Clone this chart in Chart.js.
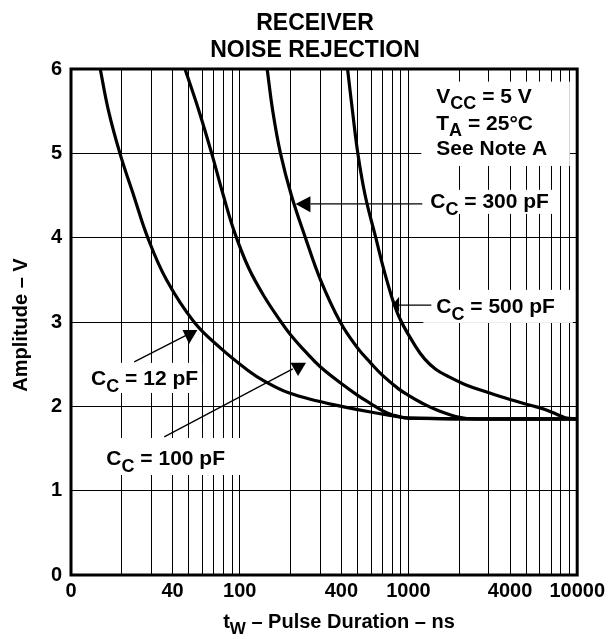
<!DOCTYPE html>
<html><head><meta charset="utf-8">
<script src="https://cdn.jsdelivr.net/npm/chart.js@4/dist/chart.umd.min.js"></script>
<style>html,body{margin:0;padding:0;background:#fff;}#wrap{width:609px;height:639px;}</style>
</head><body><div id="wrap"><canvas id="c" width="609" height="639"></canvas></div>
<script>
// ---------- data (pulse duration ns -> amplitude V) ----------
const xGrid = [10,20,30,40,50,60,70,80,90,100,200,300,400,500,600,700,800,900,1000,2000,3000,4000,5000,6000,7000,8000,9000,10000];
const xTickLabels = {10:'0',40:'40',100:'100',400:'400',1000:'1000',4000:'4000',10000:'10000'};
const yTicks = [0,1,2,3,4,5,6];

const cc12_x  = [14.9, 16.7, 19.5, 23.7, 28.5, 36.8, 53.6, 77, 113, 140, 195, 294, 400, 607, 800, 1000, 10000];
const cc12_y  = [6.0, 5.5, 5.0, 4.48, 4.0, 3.5, 3.0, 2.69, 2.42, 2.30, 2.16, 2.06, 2.0, 1.93, 1.89, 1.86, 1.85];
const cc100_x = [47.4, 57.4, 68.2, 80, 93.3, 113, 140, 176, 200, 250, 300, 400, 500, 600, 700, 800, 1000, 10000];
const cc100_y = [6.0, 5.5, 5.0, 4.5, 4.06, 3.64, 3.3, 3.0, 2.85, 2.63, 2.47, 2.27, 2.13, 2.03, 1.95, 1.9, 1.86, 1.85];
const cc300_x = [145.4, 157, 174.4, 202.5, 245, 301, 394, 500, 600, 700, 870, 1000, 1200, 1500, 2000, 2500, 10000];
const cc300_y = [6.0, 5.5, 5.0, 4.5, 4.0, 3.5, 3.0, 2.69, 2.51, 2.37, 2.21, 2.13, 2.04, 1.95, 1.87, 1.85, 1.85];
const cc500_x = [435.6, 466, 501, 554, 640, 743, 871, 1094, 1250, 1450, 1700, 2158, 3000, 4000, 5349, 6500, 7500, 8500, 10000];
const cc500_y = [6.0, 5.5, 5.0, 4.5, 4.0, 3.5, 3.08, 2.72, 2.56, 2.44, 2.36, 2.26, 2.16, 2.08, 2.01, 1.96, 1.91, 1.865, 1.85];

// ---------- annotations (anchored in data units) ----------
const FAM = '"Liberation Sans", Arial, Helvetica, sans-serif';
const whiteBoxes = [
  [1192, 5.85, 9045, 4.85],   // note block
  [1208, 4.567, 7376, 4.282], // 300 pF label
  [1225, 3.381, 9419, 2.989], // 500 pF label
  [12.0, 2.515, 59.8, 2.159], // 12 pF label
  [14.7, 1.625, 104.4, 1.186] // 100 pF label
];
const texts = [
  {x:1462, y:5.60, parts:[{t:'V'},{t:'CC',sub:true},{t:' = 5 V'}]},
  {x:1462, y:5.28, parts:[{t:'T'},{t:'A',sub:true},{t:' = 25°C'}]},
  {x:1462, y:4.98, parts:[{t:'See Note A'}]},
  {x:1347, y:4.35, parts:[{t:'C'},{t:'C',sub:true},{t:' = 300 pF'}]},
  {x:1462, y:3.108, parts:[{t:'C'},{t:'C',sub:true},{t:' = 500 pF'}]},
  {x:13.16, y:2.254, parts:[{t:'C'},{t:'C',sub:true},{t:' = 12 pF'}]},
  {x:16.2, y:1.305, parts:[{t:'C'},{t:'C',sub:true},{t:' = 100 pF'}]}
];
const leaderLines = [
  [[262.4, 4.40], [1208, 4.40]],
  [[880, 3.2], [1366, 3.2]],
  [[23.7, 2.527], [48.7, 2.847]],
  [[35.7, 1.637], [206.2, 2.444]]
];
const arrowHeads = [
  [[214, 4.40], [262.4, 4.49], [262.4, 4.30]],
  [[814, 3.215], [880, 3.30], [880, 3.12]],
  [[45.8, 2.906], [56.1, 2.906], [50.1, 2.74]],
  [[199.8, 2.518], [247.1, 2.518], [221.6, 2.361]]
];

function pts(xs, ys){ return xs.map((x,i)=>({x:x, y:ys[i]})); }
function ds(label, xs, ys){
  return {label, data:pts(xs,ys), borderColor:'#000', borderWidth:3.2, pointRadius:0,
          fill:false, tension:0.4, borderCapStyle:'round', borderJoinStyle:'round'};
}

function drawRich(ctx, parts, x, y, size, align){
  const sub = Math.round(size*0.85);
  let w = 0;
  parts.forEach(p=>{ ctx.font = `bold ${p.sub?sub:size}px ${FAM}`; p.w = ctx.measureText(p.t).width; w += p.w; });
  let cx = align==='center' ? x - w/2 : x;
  ctx.textAlign = 'left'; ctx.textBaseline = 'alphabetic';
  parts.forEach(p=>{ ctx.font = `bold ${p.sub?sub:size}px ${FAM}`; ctx.fillText(p.t, cx, y + (p.sub ? size*0.32 : 0)); cx += p.w; });
}

const deco = {
  id:'deco',
  beforeDatasetsDraw(chart){
    const {ctx, scales:{x, y}} = chart;
    ctx.save(); ctx.fillStyle = '#fff';
    whiteBoxes.forEach(b=>{
      const x0 = x.getPixelForValue(b[0]), y0 = y.getPixelForValue(b[1]);
      const x1 = x.getPixelForValue(b[2]), y1 = y.getPixelForValue(b[3]);
      ctx.fillRect(x0, y0, x1-x0, y1-y0);
    });
    ctx.restore();
  },
  afterDatasetsDraw(chart){
    const {ctx, scales:{x, y}} = chart;
    ctx.save();
    ctx.strokeStyle = '#000'; ctx.fillStyle = '#000'; ctx.lineWidth = 1.3;
    leaderLines.forEach(l=>{
      ctx.beginPath();
      ctx.moveTo(x.getPixelForValue(l[0][0]), y.getPixelForValue(l[0][1]));
      ctx.lineTo(x.getPixelForValue(l[1][0]), y.getPixelForValue(l[1][1]));
      ctx.stroke();
    });
    arrowHeads.forEach(a=>{
      ctx.beginPath();
      a.forEach((p,i)=>{ const px=x.getPixelForValue(p[0]), py=y.getPixelForValue(p[1]); i?ctx.lineTo(px,py):ctx.moveTo(px,py); });
      ctx.closePath(); ctx.fill();
    });
    texts.forEach(t=> drawRich(ctx, t.parts, x.getPixelForValue(t.x), y.getPixelForValue(t.y), 21, 'left'));
    ctx.restore();
  },
  afterDraw(chart){
    const {ctx, chartArea:a} = chart;
    ctx.save();
    ctx.strokeStyle = '#000'; ctx.lineWidth = 3;
    ctx.strokeRect(a.left, a.top, a.right-a.left, a.bottom-a.top);
    ctx.fillStyle = '#000';
    ctx.textAlign = 'center'; ctx.textBaseline = 'alphabetic';
    ctx.font = `bold 23px ${FAM}`;
    ctx.fillText('RECEIVER', 315, 30);
    ctx.fillText('NOISE REJECTION', 315, 57);
    drawRich(ctx, [{t:'t'},{t:'W',sub:true},{t:' – Pulse Duration – ns'}], 339, 628, 20, 'center');
    ctx.translate(21, 325); ctx.rotate(-Math.PI/2);
    ctx.font = `bold 20px ${FAM}`; ctx.textAlign='center'; ctx.textBaseline='middle';
    ctx.fillText('Amplitude – V', 0, 0);
    ctx.restore();
  }
};

new Chart(document.getElementById('c'), {
  type:'line',
  data:{ datasets:[ ds('CC = 12 pF', cc12_x, cc12_y), ds('CC = 100 pF', cc100_x, cc100_y),
                    ds('CC = 300 pF', cc300_x, cc300_y), ds('CC = 500 pF', cc500_x, cc500_y) ] },
  options:{
    responsive:false, animation:false, devicePixelRatio:1,
    layout:{padding:{left:0, right:29, top:69, bottom:0}},
    plugins:{legend:{display:false}, tooltip:{enabled:false}, title:{display:false}},
    scales:{
      x:{ type:'logarithmic', min:10, max:10000,
          afterBuildTicks:s=>{ s.ticks = xGrid.map(v=>({value:v})); },
          afterFit:s=>{ s.height = 64; },
          grid:{color:'#000', lineWidth:1, drawTicks:false},
          border:{display:false},
          ticks:{autoSkip:false, maxRotation:0, minRotation:0, padding:4, color:'#000',
                 font:{family:FAM, size:20, weight:'bold'},
                 callback:(v)=> (xTickLabels[v] !== undefined ? xTickLabels[v] : '')}
      },
      y:{ type:'linear', min:0, max:6,
          afterBuildTicks:s=>{ s.ticks = yTicks.map(v=>({value:v})); },
          afterFit:s=>{ s.width = 71; },
          grid:{color:'#000', lineWidth:1, drawTicks:false},
          border:{display:false},
          ticks:{padding:9, color:'#000', font:{family:FAM, size:20, weight:'bold'}}
      }
    }
  },
  plugins:[deco]
});
</script></body></html>
